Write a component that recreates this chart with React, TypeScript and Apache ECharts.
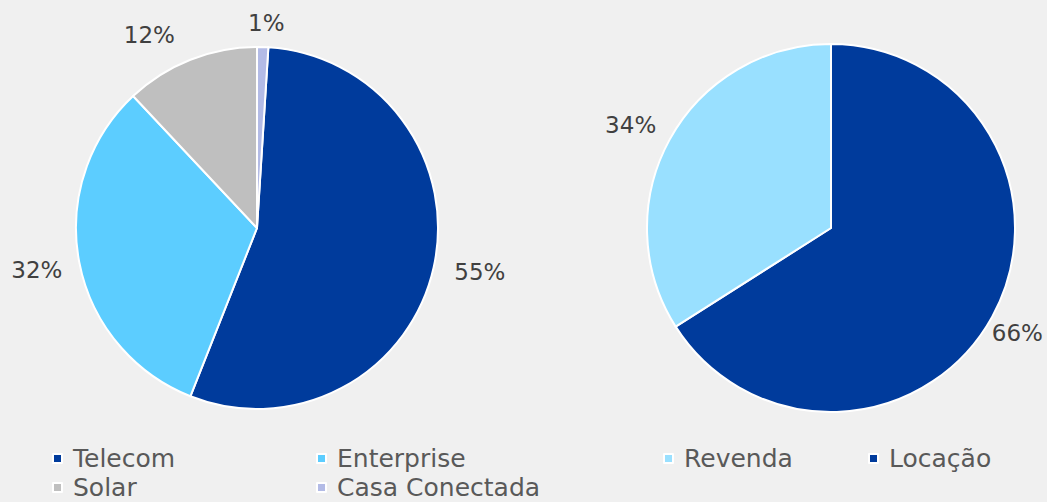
import React, { useEffect, useRef } from "react";
import * as echarts from "echarts";

const leftCategories = ["Telecom", "Enterprise", "Solar", "Casa Conectada"];
const leftValues = [55, 32, 12, 1];
const leftColors = ["#003b9c", "#5ccdff", "#bfbfbf", "#b3bbe6"];

const rightCategories = ["Locação", "Revenda"];
const rightValues = [66, 34];
const rightColors = ["#003b9c", "#99e0ff"];

// legend item placement: [name, left, top]
const legendPlaces: [string, number, number][] = [
  ["Telecom", 52, 446],
  ["Enterprise", 316, 446],
  ["Solar", 52, 475],
  ["Casa Conectada", 316, 475],
  ["Revenda", 663, 446],
  ["Locação", 868, 446],
];

// label nudges (px) to match the reference's label placement
const leftLabelShift = [[4, 2], [0, 6], [-6, -14], [-20, -12]];
const rightLabelShift = [[-16, 11], [2, -9]];

const FONT = "DejaVu Sans";

export default function App() {
  const ref = useRef<HTMLDivElement>(null);
  useEffect(() => {
    if (!ref.current) return;
    const chart = echarts.init(ref.current, null, { renderer: "svg" });
    const labelStyle = {
      show: true,
      position: "outside",
      formatter: "{c}%",
      fontFamily: FONT,
      fontSize: 23,
      color: "#404040",
      overflow: "none",
      edgeDistance: 0,
    };
    const legendText = {
      fontFamily: FONT,
      fontSize: 25,
      color: "#595959",
      lineHeight: 22,
      padding: [0, 0, 0, 6],
    };
    chart.setOption({
      animation: false,
      backgroundColor: "#f0f0f0",
      legend: legendPlaces.map(([name, left, top]) => ({
        orient: "horizontal",
        icon: "rect",
        itemWidth: 9,
        itemHeight: 9,
        left,
        top,
        padding: 0,
        textStyle: legendText,
        selectedMode: false,
        data: [name],
      })),
      series: [
        {
          type: "pie",
          center: [257, 228],
          radius: 181,
          startAngle: 86.4,
          clockwise: true,
          label: labelStyle,
          labelLine: { show: false, length: 12, length2: 0 },
          labelLayout: (p: any) => ({ dx: leftLabelShift[p.dataIndex][0], dy: leftLabelShift[p.dataIndex][1] }),
          itemStyle: { borderColor: "#ffffff", borderWidth: 2 },
          data: leftCategories.map((n, i) => ({
            name: n,
            value: leftValues[i],
            itemStyle: { color: leftColors[i] },
          })),
        },
        {
          type: "pie",
          center: [831, 228],
          radius: 184,
          startAngle: 90,
          clockwise: true,
          label: labelStyle,
          labelLine: { show: false, length: 12, length2: 0 },
          labelLayout: (p: any) => ({ dx: rightLabelShift[p.dataIndex][0], dy: rightLabelShift[p.dataIndex][1] }),
          itemStyle: { borderColor: "#ffffff", borderWidth: 2 },
          data: rightCategories.map((n, i) => ({
            name: n,
            value: rightValues[i],
            itemStyle: { color: rightColors[i] },
          })),
        },
      ],
    });
    return () => chart.dispose();
  }, []);
  return (
    <div
      ref={ref}
      style={{ position: "fixed", left: 0, top: 0, width: 1047, height: 502 }}
    />
  );
}
